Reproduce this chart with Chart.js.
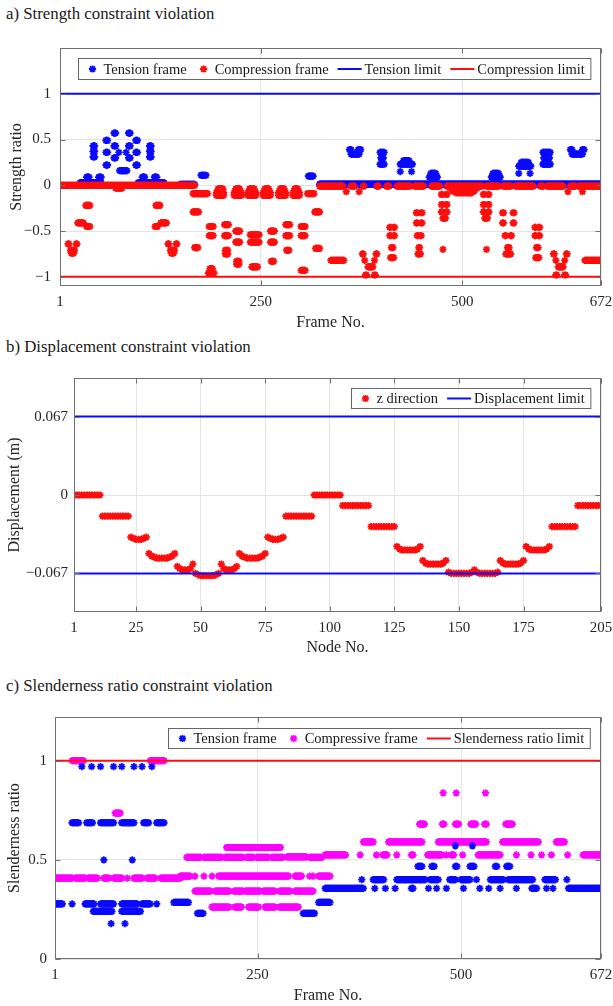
<!DOCTYPE html>
<html>
<head>
<meta charset="utf-8">
<script src="https://cdn.jsdelivr.net/npm/chart.js@4.4.1/dist/chart.umd.min.js"></script>
<style>
  body { margin: 0; background: #fff; width: 613px; height: 1006px; position: relative; overflow: hidden; font-family: "Liberation Serif", "Times New Roman", serif; }
  .title { position: absolute; left: 6px; font-size: 16.8px; color: #1a1a1a; white-space: nowrap; }
  .panel { position: absolute; left: 0; width: 613px; }
</style>
</head>
<body>
<div class="title" style="top:4px">a) Strength constraint violation</div>
<div class="panel" style="top:30px"><canvas id="strengthChart" width="613" height="306"></canvas></div>
<div class="title" style="top:337px">b) Displacement constraint violation</div>
<div class="panel" style="top:360px"><canvas id="displacementChart" width="613" height="305"></canvas></div>
<div class="title" style="top:676px">c) Slenderness ratio constraint violation</div>
<div class="panel" style="top:700px"><canvas id="slenderChart" width="613" height="306"></canvas></div>

<script>
// ---- a) strength ratio per frame, as runs: [first frame, last frame, ratio]
const frameTicks = [1, 250, 500, 672];
const strengthTicks = [-1, -0.5, 0, 0.5, 1];
const tensionLimit = 1;
const compressionLimit = -1;

const tensionFrameRuns = [
  [26, 52, 0.03], [98, 130, 0.03], [150, 168, 0.01],
  [34, 37, 0.09], [49, 52, 0.09], [103, 106, 0.09], [118, 121, 0.09],
  [42, 44, 0.43], [42, 44, 0.37], [42, 44, 0.31],
  [58, 60, 0.49], [58, 60, 0.36], [58, 60, 0.22],
  [68, 70, 0.57], [68, 70, 0.43], [68, 70, 0.30],
  [74, 74, 0.36], [75, 84, 0.16], [83, 83, 0.36],
  [86, 88, 0.57], [86, 88, 0.43], [86, 88, 0.30],
  [95, 97, 0.49], [95, 97, 0.36], [95, 97, 0.22],
  [112, 114, 0.43], [112, 114, 0.37], [112, 114, 0.31],
  [176, 182, 0.11], [309, 315, 0.10],
  [323, 672, 0.012],
  [360, 362, 0.39], [371, 374, 0.39], [362, 372, 0.34],
  [398, 403, 0.36], [399, 402, 0.30], [398, 403, 0.23],
  [427, 434, 0.27], [423, 438, 0.23], [423, 423, 0.15], [437, 437, 0.15],
  [461, 467, 0.13], [459, 469, 0.09],
  [538, 545, 0.13], [536, 547, 0.09],
  [573, 582, 0.25], [570, 585, 0.21], [570, 570, 0.13], [584, 584, 0.13],
  [600, 609, 0.36], [601, 608, 0.30], [600, 609, 0.23],
  [634, 636, 0.39], [649, 651, 0.39], [636, 649, 0.34]
];

const compressionFrameRuns = [
  [1, 168, 0.0], [70, 78, -0.03],
  [11, 12, -0.64], [21, 22, -0.64], [14, 19, -0.71], [15, 18, -0.74],
  [23, 30, -0.41], [33, 38, -0.22], [34, 38, -0.45],
  [120, 125, -0.22], [119, 122, -0.45], [126, 133, -0.41],
  [135, 136, -0.64], [145, 146, -0.64], [138, 143, -0.71], [139, 142, -0.74],
  [166, 173, -0.29], [168, 172, -0.68], [166, 184, -0.09],
  [186, 191, -0.45], [186, 191, -0.55], [187, 190, -0.91], [185, 192, -0.96],
  [197, 203, -0.04], [195, 204, -0.08], [195, 204, -0.11],
  [205, 210, -0.43], [205, 210, -0.55], [206, 209, -0.71], [206, 209, -0.75],
  [219, 224, -0.04], [217, 226, -0.08], [217, 226, -0.11],
  [219, 224, -0.50], [219, 224, -0.62], [220, 223, -0.83], [220, 223, -0.86],
  [236, 242, -0.04], [234, 244, -0.08], [234, 244, -0.11],
  [237, 248, -0.54], [237, 248, -0.62], [239, 246, -0.89],
  [255, 260, -0.04], [253, 262, -0.08], [253, 262, -0.11],
  [262, 267, -0.50], [262, 267, -0.62], [263, 266, -0.83],
  [274, 279, -0.04], [272, 281, -0.08], [272, 281, -0.11],
  [281, 286, -0.43], [281, 286, -0.55], [282, 285, -0.71],
  [292, 296, -0.04], [290, 298, -0.08], [290, 298, -0.11],
  [300, 305, -0.45], [300, 305, -0.55], [300, 305, -0.93],
  [308, 316, -0.09], [317, 323, -0.29], [318, 323, -0.69],
  // frames near zero past 323 come in clumps
  [323, 352, -0.01], [362, 366, -0.01], [377, 378, -0.01], [394, 396, -0.01], [406, 409, -0.01],
  [419, 435, -0.01], [441, 452, -0.01], [462, 472, -0.01], [481, 524, -0.01], [530, 545, -0.01],
  [551, 560, -0.01], [566, 588, -0.01], [597, 600, -0.01], [605, 625, -0.01], [634, 640, -0.01],
  [644, 672, -0.01],
  [356, 356, -0.07], [372, 372, -0.07], [631, 631, -0.07], [649, 649, -0.07],
  [337, 353, -0.82],
  [376, 377, -0.75], [393, 394, -0.75], [379, 379, -0.82], [391, 391, -0.82],
  [383, 389, -0.89], [380, 381, -0.98], [391, 392, -0.98],
  [410, 411, -0.46], [415, 416, -0.46], [410, 411, -0.55], [415, 416, -0.55], [412, 414, -0.68], [411, 415, -0.79],
  [443, 444, -0.30], [449, 450, -0.30], [443, 444, -0.41], [449, 450, -0.41],
  [444, 445, -0.55], [448, 449, -0.55], [446, 447, -0.68], [445, 448, -0.75],
  [474, 475, -0.10], [480, 481, -0.10], [474, 475, -0.21], [480, 481, -0.21],
  [474, 475, -0.29], [480, 481, -0.29], [476, 479, -0.36], [476, 476, -0.70],
  [485, 518, -0.03], [488, 515, -0.06], [492, 512, -0.08],
  [526, 527, -0.10], [532, 533, -0.10], [526, 527, -0.21], [532, 533, -0.21],
  [526, 527, -0.29], [532, 533, -0.29], [528, 531, -0.36], [530, 530, -0.70],
  [550, 551, -0.30], [563, 564, -0.30], [550, 551, -0.41], [563, 564, -0.41],
  [553, 554, -0.55], [560, 561, -0.55], [556, 558, -0.68], [554, 560, -0.75],
  [590, 591, -0.46], [595, 596, -0.46], [590, 591, -0.55], [595, 596, -0.55], [592, 594, -0.68], [591, 595, -0.79],
  [613, 614, -0.75], [629, 630, -0.75], [616, 616, -0.82], [627, 627, -0.82],
  [619, 625, -0.89], [616, 617, -0.98], [627, 628, -0.98],
  [652, 672, -0.82]
];

// ---- b) z displacement of nodes 1..205 (m)
const nodeTicks = [1, 25, 50, 75, 100, 125, 150, 175, 205];
const displacementTicks = [-0.067, 0, 0.067];
const displacementLimit = 0.067;
const zDisplacement = [
  0, 0, 0, 0, 0, 0, 0, 0, 0, 0, 0,
  -0.018, -0.018, -0.018, -0.018, -0.018, -0.018, -0.018, -0.018, -0.018, -0.018, -0.018,
  -0.036, -0.037, -0.038, -0.038, -0.038, -0.037, -0.036,
  -0.050, -0.052, -0.053, -0.054, -0.054, -0.054, -0.054, -0.054, -0.053, -0.052, -0.050,
  -0.061, -0.063, -0.064, -0.064, -0.064, -0.063, -0.059,
  -0.067, -0.068, -0.069, -0.069, -0.069, -0.069, -0.069, -0.069, -0.068, -0.067,
  -0.059, -0.063, -0.064, -0.064, -0.064, -0.063, -0.061,
  -0.050, -0.052, -0.053, -0.054, -0.054, -0.054, -0.054, -0.054, -0.053, -0.052, -0.050,
  -0.036, -0.037, -0.038, -0.038, -0.038, -0.037, -0.036,
  -0.018, -0.018, -0.018, -0.018, -0.018, -0.018, -0.018, -0.018, -0.018, -0.018, -0.018,
  0, 0, 0, 0, 0, 0, 0, 0, 0, 0, 0,
  -0.009, -0.009, -0.009, -0.009, -0.009, -0.009, -0.009, -0.009, -0.009, -0.009, -0.009,
  -0.027, -0.027, -0.027, -0.027, -0.027, -0.027, -0.027, -0.027, -0.027, -0.027,
  -0.044, -0.046, -0.047, -0.047, -0.047, -0.047, -0.047, -0.047, -0.046, -0.044,
  -0.056, -0.058, -0.059, -0.059, -0.059, -0.059, -0.059, -0.059, -0.058, -0.056,
  -0.066, -0.067, -0.067, -0.067, -0.067, -0.067, -0.067, -0.067, -0.067, -0.066,
  -0.064,
  -0.066, -0.067, -0.067, -0.067, -0.067, -0.067, -0.067, -0.067, -0.066,
  -0.056, -0.058, -0.059, -0.059, -0.059, -0.059, -0.059, -0.059, -0.058, -0.056,
  -0.044, -0.046, -0.047, -0.047, -0.047, -0.047, -0.047, -0.047, -0.046, -0.044,
  -0.027, -0.027, -0.027, -0.027, -0.027, -0.027, -0.027, -0.027, -0.027, -0.027,
  -0.009, -0.009, -0.009, -0.009, -0.009, -0.009, -0.009, -0.009, -0.009, -0.009
];

// ---- c) slenderness ratio per frame, runs: [first frame, last frame, ratio]
const slenderTicks = [0, 0.5, 1];
const slenderLimit = 1;

const slenderTensionRuns = [
  [34, 34, 0.97], [46, 46, 0.97], [57, 57, 0.97], [73, 73, 0.97], [83, 83, 0.97],
  [98, 98, 0.97], [108, 108, 0.97], [120, 120, 0.97],
  [22, 30, 0.687], [40, 47, 0.687], [57, 73, 0.687], [83, 98, 0.687], [110, 116, 0.687], [126, 135, 0.687],
  [61, 61, 0.5], [96, 96, 0.5],
  [1, 10, 0.278], [22, 22, 0.278], [38, 49, 0.278], [57, 73, 0.278], [83, 102, 0.278],
  [108, 118, 0.278], [126, 126, 0.278], [147, 165, 0.285],
  [48, 71, 0.24], [83, 106, 0.24],
  [70, 70, 0.178], [87, 87, 0.178],
  [176, 183, 0.23], [306, 320, 0.23], [325, 339, 0.285],
  [333, 380, 0.356], [394, 394, 0.356], [407, 407, 0.356], [419, 419, 0.356], [439, 441, 0.356],
  [460, 460, 0.356], [470, 470, 0.356], [482, 482, 0.356], [503, 503, 0.356], [523, 523, 0.356],
  [534, 534, 0.356], [548, 548, 0.356], [568, 568, 0.356], [587, 593, 0.356], [605, 605, 0.356],
  [613, 613, 0.356], [632, 672, 0.356],
  [378, 378, 0.40], [392, 405, 0.40], [421, 456, 0.40], [462, 472, 0.40], [486, 493, 0.40],
  [500, 511, 0.40], [519, 519, 0.40], [536, 552, 0.40], [558, 588, 0.40], [603, 616, 0.40], [630, 630, 0.40],
  [447, 452, 0.467], [464, 467, 0.467], [493, 495, 0.467], [511, 516, 0.467], [542, 544, 0.467], [556, 560, 0.467],
  [493, 493, 0.57], [514, 514, 0.57]
];

const slenderCompressiveRuns = [
  [22, 36, 1.0], [118, 135, 1.0],
  [75, 81, 0.735],
  [1, 22, 0.408], [26, 38, 0.408], [42, 53, 0.408], [61, 67, 0.408], [73, 83, 0.408], [90, 90, 0.408],
  [98, 108, 0.408], [114, 124, 0.408], [131, 155, 0.408],
  [155, 167, 0.418], [173, 173, 0.418], [184, 184, 0.418], [194, 194, 0.418], [202, 288, 0.418],
  [296, 304, 0.418], [314, 314, 0.418], [318, 318, 0.418], [325, 339, 0.418],
  [163, 180, 0.512], [184, 206, 0.512], [210, 232, 0.512], [236, 245, 0.512], [249, 263, 0.512],
  [267, 281, 0.512], [286, 310, 0.515], [314, 329, 0.512],
  [212, 278, 0.562],
  [173, 192, 0.342], [198, 215, 0.342], [221, 232, 0.342], [235, 253, 0.342], [257, 271, 0.342],
  [277, 290, 0.342], [296, 318, 0.342],
  [194, 215, 0.262], [222, 230, 0.262], [239, 251, 0.262], [259, 271, 0.262], [277, 300, 0.262],
  [333, 358, 0.525], [376, 376, 0.525], [396, 396, 0.525], [404, 409, 0.525], [421, 421, 0.525],
  [439, 441, 0.525], [459, 476, 0.525], [482, 482, 0.525], [488, 491, 0.525], [502, 502, 0.525],
  [521, 548, 0.525], [568, 568, 0.525], [586, 586, 0.525], [599, 599, 0.525], [611, 611, 0.525],
  [631, 631, 0.525], [650, 672, 0.525],
  [380, 392, 0.59], [411, 452, 0.59], [472, 531, 0.59], [551, 595, 0.59], [617, 627, 0.59],
  [449, 455, 0.68], [477, 479, 0.68], [493, 497, 0.68], [512, 518, 0.68], [529, 531, 0.68], [555, 563, 0.68],
  [478, 478, 0.837], [494, 494, 0.837], [530, 530, 0.837]
];

// ---- helpers
const BLUE = '#0a0aff', RED = '#ff0d0d', MAGENTA = '#ff00ff';
Chart.defaults.font.family = '"Liberation Serif", "Times New Roman", serif';
Chart.defaults.color = '#262626';

// every frame inside a run carries the run's ratio
function framesOf(runs) {
  const pts = [];
  runs.forEach(([first, last, y]) => {
    for (let f = first; f <= last; f++) pts.push({ x: f, y: y });
  });
  return pts;
}

function markers(label, data, color, order) {
  return { label, data, order, showLine: false, pointStyle: 'star', pointRadius: 3.6,
    borderWidth: 1.8, borderColor: color, backgroundColor: color };
}

function limitLine(label, data, color) {
  return { label, data, order: 0, showLine: true, spanGaps: false, pointRadius: 0,
    borderColor: color, borderWidth: 2, fill: false };
}

const minus = v => (v < 0 ? '\u2212' + String(Math.abs(v)) : String(v));

// box with inward tick marks on all four sides
const axesFrame = {
  id: 'axesFrame',
  afterDatasetsDraw(chart) {
    const { ctx, chartArea: a, scales: { x, y } } = chart;
    const L = Math.round(a.left) + 0.5, R = Math.round(a.right) - 0.5;
    const T = Math.round(a.top) + 0.5, B = Math.round(a.bottom) - 0.5;
    ctx.save();
    ctx.strokeStyle = '#707070';
    ctx.lineWidth = 1;
    ctx.strokeRect(L, T, R - L, B - T);
    ctx.beginPath();
    x.ticks.forEach(t => {
      const px = Math.round(x.getPixelForValue(t.value)) + 0.5;
      ctx.moveTo(px, B); ctx.lineTo(px, B - 5);
      ctx.moveTo(px, T); ctx.lineTo(px, T + 5);
    });
    y.ticks.forEach(t => {
      const py = Math.round(y.getPixelForValue(t.value)) + 0.5;
      ctx.moveTo(L, py); ctx.lineTo(L + 5, py);
      ctx.moveTo(R, py); ctx.lineTo(R - 5, py);
    });
    ctx.stroke();
    ctx.restore();
  }
};

// framed legend inside the plot, top-right
const boxLegend = {
  id: 'boxLegend',
  afterDraw(chart, args, opts) {
    const { ctx, chartArea: a } = chart;
    const sets = chart.data.datasets;
    ctx.save();
    ctx.font = opts.fontSize + 'px "Liberation Serif", serif';
    const parts = sets.map(ds => ({ sw: ds.showLine ? 24 : 16, tw: ctx.measureText(ds.label).width }));
    let w = opts.pad * 2;
    parts.forEach((p, i) => { w += p.sw + 3 + p.tw + (i < parts.length - 1 ? opts.gap : 0); });
    const x0 = Math.round(a.right - opts.right - w) + 0.5;
    const y0 = Math.round(a.top + opts.top) + 0.5;
    ctx.fillStyle = '#fff';
    ctx.fillRect(x0, y0, w, opts.height);
    ctx.strokeStyle = '#666';
    ctx.lineWidth = 1;
    ctx.strokeRect(x0, y0, w, opts.height);
    const cy = y0 + opts.height / 2;
    let x = x0 + opts.pad;
    sets.forEach((ds, i) => {
      const p = parts[i];
      if (ds.showLine) {
        ctx.strokeStyle = ds.borderColor;
        ctx.lineWidth = 2;
        ctx.beginPath(); ctx.moveTo(x, cy); ctx.lineTo(x + p.sw, cy); ctx.stroke();
      } else {
        ctx.strokeStyle = ds.borderColor;
        ctx.fillStyle = ds.borderColor;
        ctx.lineWidth = 1.8;
        Chart.helpers.drawPoint(ctx, { pointStyle: 'star', radius: 3.6, borderWidth: 1.8, rotation: 0 }, x + p.sw / 2, cy);
      }
      ctx.fillStyle = '#1a1a1a';
      ctx.textBaseline = 'middle';
      ctx.fillText(ds.label, x + p.sw + 3, cy + 1);
      x += p.sw + 3 + p.tw + opts.gap;
    });
    ctx.restore();
  }
};

function buildChart(id, cfg) {
  return new Chart(document.getElementById(id), {
    type: 'scatter',
    data: { datasets: cfg.datasets },
    options: {
      responsive: false,
      animation: false,
      events: [],
      layout: { padding: { top: cfg.padTop, right: 12, left: 0, bottom: 0 } },
      plugins: { legend: { display: false }, tooltip: { enabled: false }, boxLegend: cfg.legend },
      scales: {
        x: {
          type: 'linear', min: cfg.xMin, max: cfg.xMax,
          afterBuildTicks: s => { s.ticks = cfg.xTicks.map(v => ({ value: v })); },
          afterFit: s => { s.height = cfg.xAxisHeight; s.paddingLeft = 0; s.paddingRight = 0; },
          grid: { color: '#e4e4e4', drawTicks: false },
          border: { display: false },
          ticks: { font: { size: 15 }, padding: 7, maxRotation: 0, autoSkip: false, callback: v => String(v) },
          title: { display: true, text: cfg.xTitle, font: { size: 16 }, padding: { top: 0, bottom: cfg.xTitlePad } }
        },
        y: {
          type: 'linear', min: cfg.yMin, max: cfg.yMax,
          afterBuildTicks: s => { s.ticks = cfg.yTicks.map(v => ({ value: v })); },
          afterFit: s => { s.width = cfg.yAxisWidth; },
          grid: { color: '#e4e4e4', drawTicks: false },
          border: { display: false },
          ticks: { font: { size: 15 }, padding: cfg.yTickPad, autoSkip: false, callback: minus },
          title: { display: true, text: cfg.yTitle, font: { size: 16 }, padding: { top: cfg.yTitlePad, bottom: 0 } }
        }
      }
    },
    plugins: [axesFrame, boxLegend]
  });
}

// a) strength
buildChart('strengthChart', {
  datasets: [
    markers('Tension frame', framesOf(tensionFrameRuns), BLUE, 2),
    markers('Compression frame', framesOf(compressionFrameRuns), RED, 1),
    limitLine('Tension limit', [{ x: 1, y: tensionLimit }, { x: 672, y: tensionLimit }], BLUE),
    limitLine('Compression limit', [{ x: 1, y: compressionLimit }, { x: 672, y: compressionLimit }], RED)
  ],
  xMin: 1, xMax: 672, xTicks: frameTicks, xTitle: 'Frame No.', xAxisHeight: 50, xTitlePad: 4,
  yMin: -1.1, yMax: 1.5, yTicks: strengthTicks, yTitle: 'Strength ratio', yAxisWidth: 60, yTickPad: 9, yTitlePad: 7,
  padTop: 13,
  legend: { fontSize: 14.5, pad: 6, gap: 9, right: 11, top: 10, height: 21 }
});

// b) displacement
buildChart('displacementChart', {
  datasets: [
    markers('z direction', zDisplacement.map((v, i) => ({ x: i + 1, y: v })), RED, 1),
    limitLine('Displacement limit', [
      { x: 1, y: displacementLimit }, { x: 205, y: displacementLimit }, { x: 205, y: null },
      { x: 1, y: -displacementLimit }, { x: 205, y: -displacementLimit }
    ], BLUE)
  ],
  xMin: 1, xMax: 205, xTicks: nodeTicks, xTitle: 'Node No.', xAxisHeight: 53, xTitlePad: 8,
  yMin: -0.1, yMax: 0.1, yTicks: displacementTicks, yTitle: 'Displacement (m)', yAxisWidth: 74, yTickPad: 6, yTitlePad: 5,
  padTop: 18,
  legend: { fontSize: 14.5, pad: 6, gap: 9, right: 11, top: 10, height: 20 }
});

// c) slenderness
buildChart('slenderChart', {
  datasets: [
    markers('Tension frame', framesOf(slenderTensionRuns), BLUE, 1),
    markers('Compressive frame', framesOf(slenderCompressiveRuns), MAGENTA, 2),
    limitLine('Slenderness ratio limit', [{ x: 1, y: slenderLimit }, { x: 672, y: slenderLimit }], RED)
  ],
  xMin: 1, xMax: 672, xTicks: frameTicks, xTitle: 'Frame No.', xAxisHeight: 47, xTitlePad: 1,
  yMin: 0, yMax: 1.22, yTicks: slenderTicks, yTitle: 'Slenderness ratio', yAxisWidth: 55, yTickPad: 8, yTitlePad: 5,
  padTop: 14,
  legend: { fontSize: 14.5, pad: 6, gap: 9, right: 11, top: 11, height: 20 }
});
</script>
</body>
</html>
